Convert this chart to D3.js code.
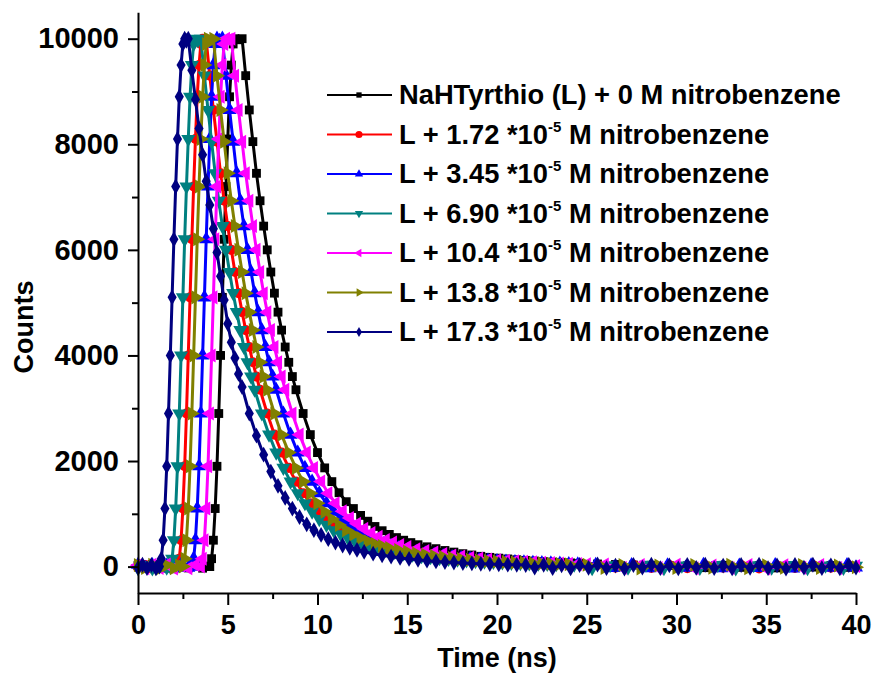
<!DOCTYPE html>
<html>
<head>
<meta charset="utf-8">
<script src="https://cdn.jsdelivr.net/npm/d3@7"></script>
<style>
body{margin:0;background:#fff;}
</style>
</head>
<body>
<script>
// legend text, one entry per series (sup = exponent shown as superscript)
var labels = [
  {pre:'NaHTyrthio (L) + 0 M nitrobenzene', sup:null, post:''},
  {pre:'L + 1.72 *10', sup:'-5', post:' M nitrobenzene'},
  {pre:'L + 3.45 *10', sup:'-5', post:' M nitrobenzene'},
  {pre:'L + 6.90 *10', sup:'-5', post:' M nitrobenzene'},
  {pre:'L + 10.4 *10', sup:'-5', post:' M nitrobenzene'},
  {pre:'L + 13.8 *10', sup:'-5', post:' M nitrobenzene'},
  {pre:'L + 17.3 *10', sup:'-5', post:' M nitrobenzene'}
];
var colors = ['#000000','#ff0000','#0000ff','#008080','#ff00ff','#808000','#000080'];
var shapes = ['square','circle','up','down','left','right','diamond'];

// [time (ns), counts]
var black = [[0,20],[0.4,-35],[0.8,40],[1.2,-20],[1.6,30],[2.0,-40],[2.4,15],[2.8,-25],[3.2,35],[3.6,-30],[3.9,10],
  [4.0,0],[4.1,150],[4.2,500],[4.3,1100],[4.4,1900],[4.5,2900],[4.6,4000],[4.7,5100],[4.8,6200],[4.9,7200],[5.0,8100],[5.1,8900],[5.2,9500],[5.3,9900],[5.4,10000],[5.6,9980],[5.8,10000],
  [6.0,9300],[6.2,8650],[6.4,8050],[6.6,7450],[6.8,6930],[7.0,6450],[7.2,6000],[7.4,5580],[7.6,5180],[7.8,4820],[8.0,4480],[8.2,4160],[8.4,3870],[8.6,3600],[8.8,3350],
  [9.2,2900],[9.6,2500],[10.0,2160],[10.4,1870],[10.8,1610],[11.2,1400],[11.6,1230],[12.0,1100],[12.4,970],[12.8,860],[13.2,760],[13.6,680],[14.0,610],[14.4,550],[14.8,500],[15.2,455],[15.6,415],
  [16.1,375],[16.6,340],[17.1,305],[17.6,275],[18.1,245],[18.6,220],[19.1,195],[19.6,175],[20.1,160],[20.6,145],[21.1,130],[21.6,118],[22.1,105],[22.6,95],[23.1,85],[23.6,78],[24.1,70],[24.6,62],
  [25.6,50],[26.6,40],[27.6,30],[28.6,25],[29.6,20],[30.6,15],[31.6,-20],[32.6,25],[33.6,-15],[34.6,20],[35.6,-25],[36.6,10],[37.6,-10],[38.6,20],[39.6,-15],[40,5]];

var red = [[0,-20],[0.4,30],[0.8,-40],[1.2,25],[1.6,-30],[2.0,35],
  [2.2,0],[2.3,150],[2.4,500],[2.5,1100],[2.6,1900],[2.7,2900],[2.8,4000],[2.9,5100],[3.0,6200],[3.1,7200],[3.2,8100],[3.3,8900],[3.4,9500],[3.5,9900],[3.6,10000],[3.8,9970],
  [4.0,9300],[4.2,8650],[4.4,8050],[4.6,7450],[4.8,6930],[5.0,6450],[5.2,6000],[5.4,5580],[5.6,5180],[5.8,4820],[6.0,4480],[6.2,4160],[6.4,3870],[6.6,3600],[6.8,3350],
  [7.2,2900],[7.6,2500],[8.0,2160],[8.4,1870],[8.8,1610],[9.2,1390],[9.6,1200],[10.0,1040],[10.4,900],[10.8,790],[11.2,690],[11.6,610],[12.0,540],[12.4,480],[12.8,430],[13.2,390],[13.6,350],
  [14.1,315],[14.6,280],[15.1,250],[15.6,225],[16.1,200],[16.6,180],[17.1,162],[17.6,145],[18.1,130],[18.6,115],[19.1,105],[19.6,95],[20.1,87],[20.6,80],[21.1,72],[21.6,65],[22.1,60],[22.6,55],[23.1,50],[23.6,45],
  [24.6,35],[25.6,30],[26.6,-20],[27.6,35],[28.6,-25],[29.6,30],[30.6,-30],[31.6,25],[32.6,-20],[33.6,30],[34.6,-35],[35.6,20],[36.6,-25],[37.6,30],[38.6,-20],[39.6,25],[40,-10]];

var blue = [[0,35],[0.4,-25],[0.8,30],[1.2,-35],[1.6,20],[2.0,-30],[2.4,40],[2.8,-20],
  [3.0,0],[3.1,150],[3.2,500],[3.3,1100],[3.4,1900],[3.5,2900],[3.6,4000],[3.7,5100],[3.8,6200],[3.9,7200],[4.0,8100],[4.1,8900],[4.2,9500],[4.3,9900],[4.4,10000],[4.55,9960],[4.7,10000],
  [4.9,9300],[5.1,8650],[5.3,8050],[5.5,7450],[5.7,6930],[5.9,6450],[6.1,6000],[6.3,5580],[6.5,5180],[6.7,4820],[6.9,4480],[7.1,4160],[7.3,3870],[7.5,3600],[7.7,3350],
  [8.1,2900],[8.5,2500],[8.9,2160],[9.3,1870],[9.7,1610],[10.1,1390],[10.5,1200],[10.9,1040],[11.3,900],[11.7,790],[12.1,690],[12.5,610],[12.9,540],[13.3,480],[13.7,430],[14.1,390],[14.5,350],
  [15.0,315],[15.5,280],[16.0,250],[16.5,225],[17.0,200],[17.5,180],[18.0,162],[18.5,145],[19.0,130],[19.5,115],[20.0,105],[20.5,95],[21.0,87],[21.5,80],[22.0,72],[22.5,65],[23.0,60],[23.5,55],[24.0,50],[24.5,45],
  [25.5,35],[26.5,-25],[27.5,30],[28.5,-30],[29.5,25],[30.5,-20],[31.5,35],[32.5,-30],[33.5,20],[34.5,-25],[35.5,30],[36.5,-35],[37.5,25],[38.5,-20],[39.5,30],[40,-15]];

var teal = [[0,-30],[0.4,25],[0.8,-35],[1.2,30],[1.6,-20],
  [1.8,0],[1.9,150],[2.0,500],[2.1,1100],[2.2,1900],[2.3,2900],[2.4,4000],[2.5,5100],[2.6,6200],[2.7,7200],[2.8,8100],[2.9,8900],[3.0,9500],[3.1,9900],[3.2,10000],[3.35,9970],[3.5,10000],
  [3.7,9300],[3.9,8650],[4.1,8050],[4.3,7450],[4.5,6930],[4.7,6450],[4.9,6000],[5.1,5580],[5.3,5180],[5.5,4820],[5.7,4480],[5.9,4160],[6.1,3870],[6.3,3600],[6.5,3350],
  [6.9,2900],[7.3,2500],[7.7,2160],[8.1,1870],[8.5,1610],[8.9,1390],[9.3,1200],[9.7,1040],[10.1,900],[10.5,790],[10.9,690],[11.3,610],[11.7,540],[12.1,480],[12.5,430],[12.9,390],[13.3,350],
  [13.8,315],[14.3,280],[14.8,250],[15.3,225],[15.8,200],[16.3,180],[16.8,162],[17.3,145],[17.8,130],[18.3,115],[18.8,105],[19.3,95],[19.8,87],[20.3,80],[20.8,72],[21.3,65],[21.8,60],[22.3,55],[22.8,50],[23.3,45],
  [24.3,35],[25.3,-30],[26.3,25],[27.3,-20],[28.3,35],[29.3,-30],[30.3,20],[31.3,-25],[32.3,30],[33.3,-35],[34.3,25],[35.3,-20],[36.3,30],[37.3,-30],[38.3,20],[39.3,-25],[40,15]];

var magenta = [[0,25],[0.4,-30],[0.8,35],[1.2,-25],[1.6,40],[2.0,-35],[2.4,20],[2.8,-30],[3.2,30],
  [3.5,0],[3.6,150],[3.7,500],[3.8,1100],[3.9,1900],[4.0,2900],[4.1,4000],[4.2,5100],[4.3,6200],[4.4,7200],[4.5,8100],[4.6,8900],[4.7,9500],[4.8,9900],[4.9,10000],[5.05,9980],[5.2,10000],
  [5.4,9300],[5.6,8650],[5.8,8050],[6.0,7450],[6.2,6930],[6.4,6450],[6.6,6000],[6.8,5580],[7.0,5180],[7.2,4820],[7.4,4480],[7.6,4160],[7.8,3870],[8.0,3600],[8.2,3350],
  [8.6,2900],[9.0,2500],[9.4,2160],[9.8,1870],[10.2,1610],[10.6,1390],[11.0,1200],[11.4,1050],[11.8,920],[12.2,810],[12.6,715],[13.0,635],[13.4,565],[13.8,505],[14.2,455],[14.6,410],[15.0,370],
  [15.5,330],[16.0,295],[16.5,265],[17.0,238],[17.5,212],[18.0,190],[18.5,170],[19.0,152],[19.5,136],[20.0,122],[20.5,110],[21.0,100],[21.5,90],[22.0,82],[22.5,74],[23.0,67],[23.5,60],[24.0,55],[24.5,50],[25.0,45],
  [26.0,38],[27.0,-20],[28.0,30],[29.0,-25],[30.0,35],[31.0,-30],[32.0,20],[33.0,-25],[34.0,30],[35.0,-35],[36.0,25],[37.0,-20],[38.0,30],[39.0,-25],[40,10]];

var olive = [[0,30],[0.4,-25],[0.8,35],[1.2,-40],[1.6,25],[2.0,-30],[2.3,20],
  [2.5,0],[2.6,150],[2.7,500],[2.8,1100],[2.9,1900],[3.0,2900],[3.1,4000],[3.2,5100],[3.3,6200],[3.4,7200],[3.5,8100],[3.6,8900],[3.7,9500],[3.8,9900],[3.9,10000],[4.05,9970],[4.2,10000],
  [4.4,9300],[4.6,8650],[4.8,8050],[5.0,7450],[5.2,6930],[5.4,6450],[5.6,6000],[5.8,5580],[6.0,5180],[6.2,4820],[6.4,4480],[6.6,4160],[6.8,3870],[7.0,3600],[7.2,3350],
  [7.6,2900],[8.0,2500],[8.4,2160],[8.8,1870],[9.2,1610],[9.6,1390],[10.0,1200],[10.4,1040],[10.8,900],[11.2,790],[11.6,690],[12.0,610],[12.4,540],[12.8,480],[13.2,430],[13.6,390],[14.0,350],
  [14.5,315],[15.0,280],[15.5,250],[16.0,225],[16.5,200],[17.0,180],[17.5,162],[18.0,145],[18.5,130],[19.0,115],[19.5,105],[20.0,95],[20.5,87],[21.0,80],[21.5,72],[22.0,65],[22.5,60],[23.0,55],[23.5,50],[24.0,45],
  [25.0,35],[26.0,-25],[27.0,30],[28.0,-35],[29.0,20],[30.0,-25],[31.0,30],[32.0,-20],[33.0,35],[34.0,-30],[35.0,25],[36.0,-20],[37.0,30],[38.0,-25],[39.0,20],[40,-10]];

var navy = [[0,-25],[0.25,35],[0.5,-30],[0.75,30],[1.0,-35],[1.1,20],
  [1.2,0],[1.3,150],[1.4,500],[1.5,1100],[1.6,1900],[1.7,2900],[1.8,4000],[1.9,5100],[2.0,6200],[2.1,7200],[2.2,8100],[2.3,8900],[2.4,9500],[2.5,9900],[2.6,10000],[2.7,9960],[2.8,10000],
  [3.0,9400],[3.2,8850],[3.4,8300],[3.6,7800],[3.8,7300],[4.0,6850],[4.2,6400],[4.4,5950],[4.6,5500],[4.8,5050],[5.0,4600],[5.2,4250],[5.4,3950],[5.6,3650],[5.8,3400],
  [6.2,2900],[6.6,2480],[7.0,2120],[7.4,1800],[7.8,1530],[8.2,1300],[8.6,1100],[9.0,940],[9.4,800],[9.8,690],[10.2,600],[10.6,520],[11.0,455],[11.4,400],[11.8,355],[12.2,315],[12.6,280],
  [13.1,245],[13.6,215],[14.1,190],[14.6,165],[15.1,145],[15.6,128],[16.1,112],[16.6,98],[17.1,86],[17.6,76],[18.1,67],[18.6,60],[19.1,53],[19.6,47],[20.1,42],[20.6,37],[21.1,33],[21.6,30],
  [22.1,-20],[22.6,35],[23.1,-30],[23.6,25],[24.1,-35],[24.6,30],[25.1,-25],[25.6,40],[26.1,-30],[26.6,20],[27.1,-40],[27.6,30],[28.1,-20],[28.6,35],[29.1,-30],[29.6,25],
  [30.1,-35],[30.6,30],[31.1,-25],[31.6,35],[32.1,-30],[32.6,20],[33.1,-35],[33.6,30],[34.1,-25],[34.6,35],[35.1,-30],[35.6,25],[36.1,-40],[36.6,30],[37.1,-20],[37.6,35],[38.1,-30],[38.6,25],[39.1,-35],[39.6,30],[40,-20]];

var series = [black, red, blue, teal, magenta, olive, navy];

var xTicks = [0,5,10,15,20,25,30,35,40];
var xMinor = [2.5,7.5,12.5,17.5,22.5,27.5,32.5,37.5];
var yTicks = [0,2000,4000,6000,8000,10000];
var yMinor = [1000,3000,5000,7000,9000];

var width = 874;
var height = 676;
var font = '"Liberation Sans", Arial, Helvetica, sans-serif';

var svg = d3.select('body').append('svg')
  .attr('width',width)
  .attr('height',height);

var x = d3.scaleLinear().domain([0,40]).range([138,856]);
var y = d3.scaleLinear().domain([-500,10500]).range([593,12.3]);

var symbolInfo = function(shape, big){
  var type = d3.symbolTriangle, rot = 0, size;
  if(shape === 'square'){ type = d3.symbolSquare; size = big ? 78 : 28; }
  else if(shape === 'circle'){ type = d3.symbolCircle; size = big ? 80 : 40; }
  else if(shape === 'diamond'){ type = d3.symbolDiamond; size = big ? 72 : 30; }
  else {
    size = big ? 85 : 30;
    if(shape === 'down') rot = 180;
    if(shape === 'left') rot = -90;
    if(shape === 'right') rot = 90;
  }
  return {path: d3.symbol().type(type).size(size)(), rot: rot};
}

// curves
var line = d3.line()
  .x(function(d){return x(d[0])})
  .y(function(d){return y(d[1])});

series.forEach(function(data,i){
  var g = svg.append('g');
  g.append('path')
    .datum(data)
    .attr('d',line)
    .attr('fill','none')
    .attr('stroke',colors[i])
    .attr('stroke-width',3);
  var sym = symbolInfo(shapes[i], true);
  g.selectAll('path.pt').data(data).enter()
    .append('path')
    .attr('class','pt')
    .attr('d',sym.path)
    .attr('fill',colors[i])
    .attr('transform',function(d){return 'translate('+x(d[0])+','+y(d[1])+') rotate('+sym.rot+')'});
});

// axes
var styleAxis = function(g, size){
  g.selectAll('path.domain').attr('stroke','#000').attr('stroke-width',2);
  g.selectAll('.tick line').attr('stroke','#000').attr('stroke-width',2);
  g.selectAll('.tick text')
    .attr('font-family',font)
    .attr('font-weight','bold')
    .attr('font-size',size)
    .attr('fill','#000');
}

var yAxis = svg.append('g').attr('transform','translate(138,0)')
  .call(d3.axisLeft(y).tickValues(yTicks).tickSize(10).tickSizeOuter(0).tickPadding(9).tickFormat(d3.format('d')));
styleAxis(yAxis, 29);
var yMin = svg.append('g').attr('transform','translate(138,0)')
  .call(d3.axisLeft(y).tickValues(yMinor).tickSize(6).tickFormat(''));
yMin.select('path.domain').remove();
styleAxis(yMin, 29);

var xAxis = svg.append('g').attr('transform','translate(0,593)')
  .call(d3.axisBottom(x).tickValues(xTicks).tickSize(12).tickSizeOuter(0).tickPadding(10));
styleAxis(xAxis, 27);
var xMin = svg.append('g').attr('transform','translate(0,593)')
  .call(d3.axisBottom(x).tickValues(xMinor).tickSize(6).tickFormat(''));
xMin.select('path.domain').remove();
styleAxis(xMin, 27);

svg.append('text')
  .attr('x',497).attr('y',667)
  .attr('text-anchor','middle')
  .attr('font-family',font).attr('font-weight','bold').attr('font-size',27)
  .text('Time (ns)');

svg.append('text')
  .attr('transform','translate(33,327) rotate(-90)')
  .attr('text-anchor','middle')
  .attr('font-family',font).attr('font-weight','bold').attr('font-size',27)
  .text('Counts');

// legend
labels.forEach(function(lab,i){
  var cy = 95 + i*39.5;
  svg.append('line')
    .attr('x1',327).attr('x2',392)
    .attr('y1',cy).attr('y2',cy)
    .attr('stroke',colors[i]).attr('stroke-width',2);
  var sym = symbolInfo(shapes[i], false);
  svg.append('path')
    .attr('d',sym.path)
    .attr('fill',colors[i])
    .attr('transform','translate(359,'+cy+') rotate('+sym.rot+')');
  var t = svg.append('text')
    .attr('x',399).attr('y',cy+9)
    .attr('font-family',font).attr('font-weight','bold').attr('font-size',27.3)
    .attr('fill','#000');
  t.append('tspan').text(lab.pre);
  if(lab.sup){
    t.append('tspan').attr('dy',-12).attr('font-size',15).text(lab.sup);
    t.append('tspan').attr('dy',12).text(lab.post);
  }
});
</script>
</body>
</html>
